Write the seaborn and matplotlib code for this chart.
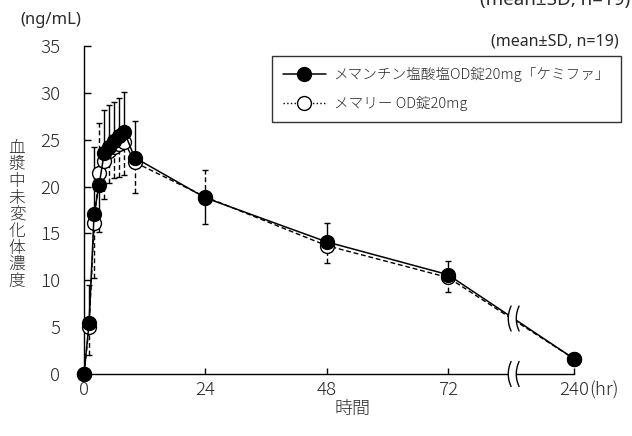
import numpy as np
import pandas as pd
import matplotlib
matplotlib.use("Agg")
import matplotlib.pyplot as plt
import matplotlib.transforms as mtransforms
from matplotlib.lines import Line2D
import seaborn as sns

# Plasma concentration (ng/mL) of unchanged memantine, mean and SD, n=19
hours = [0, 1, 2, 3, 4, 5, 6, 7, 8, 10, 24, 48, 72, 240]
test_mean = [0, 5.4, 17.1, 20.2, 23.6, 24.2, 24.9, 25.4, 25.8, 23.1, 18.8, 14.1, 10.6, 1.6]
test_sd = [0, 4.1, 7.1, 5.0, 4.6, 4.5, 4.1, 4.0, 4.3, 3.9, 2.8, 2.0, 1.5, 0.5]
ref_mean = [0, 5.0, 16.1, 21.5, 22.7, 23.8, 24.2, 24.5, 24.8, 22.6, 18.9, 13.7, 10.3, 1.6]
ref_sd = [0, 3.0, 5.9, 5.3, 4.0, 3.4, 3.3, 3.5, 3.6, 3.3, 2.9, 1.9, 1.5, 0.5]

x_ticks = [0, 24, 48, 72, 240]
y_ticks = [0, 5, 10, 15, 20, 25, 30, 35]
test_label = "メマンチン塩酸塩OD錠20mg「ケミファ」"
ref_label = "メマリー OD錠20mg"

# broken x axis: everything after 72 hr is drawn at one slot
BREAK_AT = 85
LAST_SLOT = 97


def axis_pos(h):
    return h if h <= 72 else LAST_SLOT


pos = np.array([axis_pos(h) for h in hours], dtype=float)
tm, ts = np.array(test_mean), np.array(test_sd)
rm, rs = np.array(ref_mean), np.array(ref_sd)

# the higher curve gets its SD bar upward, the lower one downward
test_up = tm >= rm
test_err = [np.where(test_up, 0, ts), np.where(test_up, ts, 0)]
ref_err = [np.where(test_up, rs, 0), np.where(test_up, 0, rs)]

sns.set_style("ticks")
plt.rcParams['font.family'] = ['Noto Sans CJK JP', 'DejaVu Sans']
plt.rcParams['font.weight'] = 'light'
latin = ['Noto Sans', 'Noto Sans CJK JP']
ink = '#2a2a2a'

fig = plt.figure(figsize=(6.32, 4.36), dpi=100)
ax = fig.add_axes([84 / 632, 1 - 374 / 436, (621 - 84) / 632, 328 / 436])

dash = (0, (3.5, 2))

eb = ax.errorbar(pos, rm, yerr=ref_err, fmt='none', ecolor='k', elinewidth=1,
                 capsize=2.5, capthick=1, zorder=2, clip_on=False)
eb[2][0].set_linestyle(dash)
ax.errorbar(pos, tm, yerr=test_err, fmt='none', ecolor='k', elinewidth=1,
            capsize=2.5, capthick=1, zorder=2, clip_on=False)

sns.lineplot(x=pos, y=rm, ax=ax, color='k', linewidth=1, linestyle=dash,
             marker='o', markersize=10, markerfacecolor='w', markeredgecolor='k',
             markeredgewidth=1, zorder=3, clip_on=False)
sns.lineplot(x=pos, y=tm, ax=ax, color='k', linewidth=1.1,
             marker='o', markersize=10, markerfacecolor='k', markeredgecolor='k',
             markeredgewidth=1, zorder=4, clip_on=False)

ax.set_xlim(0, (621 - 84) / 5.055)
ax.set_ylim(0, 35)
ax.set_xticks([axis_pos(h) for h in x_ticks])
ax.set_xticklabels([str(h) for h in x_ticks])
ax.set_yticks(y_ticks)
ax.set_xlabel("")
ax.set_ylabel("")
for s in ['top', 'right']:
    ax.spines[s].set_visible(False)
ax.spines['bottom'].set_bounds(0, LAST_SLOT)
for s in ['left', 'bottom']:
    ax.spines[s].set_linewidth(1)
    ax.spines[s].set_color('k')
ax.tick_params(axis='both', direction='in', color='k', width=1, labelsize=13.5,
               labelcolor=ink)
ax.tick_params(axis='y', length=5, pad=17)
ax.tick_params(axis='x', length=4, pad=5)
for lab in ax.get_xticklabels() + ax.get_yticklabels():
    lab.set_fontweight('light')

ax.annotate("(hr)", xy=(LAST_SLOT, 0), xycoords=('data', 'axes fraction'),
            xytext=(11, -5), textcoords='offset points', ha='left', va='top',
            fontsize=13.5, color=ink, fontweight='light')


def draw_break(xd, yd):
    trans = fig.dpi_scale_trans + mtransforms.ScaledTranslation(xd, yd, ax.transData)
    yy = np.linspace(-0.125, 0.125, 40)
    bend = 0.028 * (yy / 0.125) ** 2 - 0.014
    xl = -0.04 + bend
    xr = 0.04 + bend
    ax.fill(np.r_[xl, xr[::-1]], np.r_[yy, yy[::-1]], color='w', lw=0,
            transform=trans, zorder=6, clip_on=False)
    ax.plot(xl, yy, color='k', lw=1, transform=trans, zorder=7, clip_on=False)
    ax.plot(xr, yy, color='k', lw=1, transform=trans, zorder=7, clip_on=False)


draw_break(BREAK_AT, 0)
draw_break(BREAK_AT, np.interp(BREAK_AT, [72, LAST_SLOT], [tm[-2], tm[-1]]))

handles = [
    Line2D([], [], color='k', lw=1.1, marker='o', markersize=10,
           markerfacecolor='k', markeredgecolor='k'),
    Line2D([], [], color='k', lw=1, linestyle=':', marker='o', markersize=10,
           markerfacecolor='w', markeredgecolor='k'),
]
leg = ax.legend(handles, [test_label, ref_label], loc='upper right',
                bbox_to_anchor=(1.0, (374 - 56) / 328), borderaxespad=0,
                fontsize=10.5, handlelength=3.0, handletextpad=0.5,
                labelspacing=0.95, borderpad=0.75, frameon=True, fancybox=False)
leg.get_frame().set_edgecolor('k')
leg.get_frame().set_linewidth(1)
for t in leg.get_texts():
    t.set_color(ink)

ax.text(0.996, (374 - 45) / 328, "(mean±SD, n=19)", transform=ax.transAxes,
        ha='right', va='baseline', fontsize=11.5, color=ink, family=latin,
        fontweight='light')

fig.text(480 / 632, 1 - 5 / 436, "(mean±SD, n=19)", ha='left', va='baseline',
         fontsize=13.5, color=ink, family=latin, fontweight='light')
fig.text(20 / 632, 1 - 20.5 / 436, "(ng/mL)", ha='left', va='center',
         fontsize=12, color=ink, family=latin, fontweight='light')
fig.text(17 / 632, 1 - 215 / 436, "\n".join("血漿中未変化体濃度"), ha='center',
         va='center', fontsize=12, linespacing=0.98, color=ink)
fig.text(352 / 632, 1 - 409 / 436, "時間", ha='center', va='center',
         fontsize=13, color=ink)

fig.savefig("out.png", dpi=100, facecolor='white')
